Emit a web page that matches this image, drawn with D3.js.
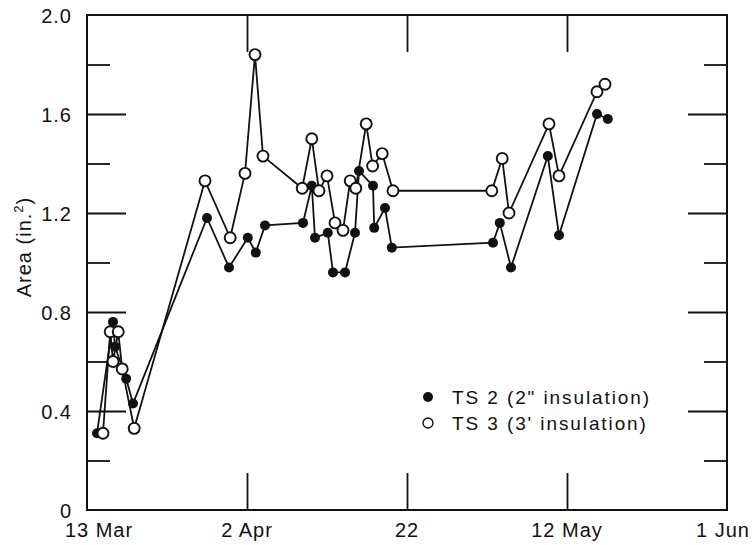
<!DOCTYPE html>
<html>
<head>
<meta charset="utf-8">
<script src="https://cdn.jsdelivr.net/npm/d3@7"></script>
<style>
  body { margin: 0; background: #fff; }
  text { font-family: "Liberation Sans", Arial, sans-serif; fill: #111; }
</style>
</head>
<body>
<div id="chart-area"></div>
<script>
// Days after 13 Mar and area (in.^2)
var ts2Days = [1.25, 3.25, 3.5, 4.9, 5.75, 15, 17.75, 20.1, 21.1, 22.25,
               27, 28.1, 28.5, 30.1, 30.75, 32.25, 33.5, 34, 35.75, 35.9,
               37.25, 38.1, 50.75, 51.6, 53, 57.6, 59, 63.75, 65.1];
var ts2Area = [0.31, 0.76, 0.66, 0.53, 0.43, 1.18, 0.98, 1.10, 1.04, 1.15,
               1.16, 1.31, 1.10, 1.12, 0.96, 0.96, 1.12, 1.37, 1.31, 1.14,
               1.22, 1.06, 1.08, 1.16, 0.98, 1.43, 1.11, 1.60, 1.58];

var ts3Days = [2, 2.9, 3.25, 3.9, 4.4, 5.9, 14.75, 17.9, 19.75, 21,
               22, 26.9, 28.1, 29, 30, 31, 32, 32.9, 33.6, 34.9,
               35.7, 36.9, 38.25, 50.6, 51.9, 52.75, 57.75, 59, 63.75, 64.75];
var ts3Area = [0.31, 0.72, 0.60, 0.72, 0.57, 0.33, 1.33, 1.10, 1.36, 1.84,
               1.43, 1.30, 1.50, 1.29, 1.35, 1.16, 1.13, 1.33, 1.30, 1.56,
               1.39, 1.44, 1.29, 1.29, 1.42, 1.20, 1.56, 1.35, 1.69, 1.72];

var xTickDays = [0, 20, 40, 60, 80];
var xTickLabels = ["13 Mar", "2 Apr", "22", "12 May", "1 Jun"];
var yMajorTicks = [0, 0.4, 0.8, 1.2, 1.6, 2.0];
var yMinorTicks = [0.2, 0.6, 1.0, 1.4, 1.8];
var yTickLabels = ["0", "0.4", "0.8", "1.2", "1.6", "2.0"];

var legendLabels = ["TS 2 (2\" insulation)", "TS 3 (3' insulation)"];

var margin = { left: 87, right: 28, top: 15, bottom: 35 };
var width = 755 - margin.left - margin.right,
    height = 545 - margin.top - margin.bottom;

var svg = d3.select("#chart-area")
    .append("svg")
    .attr("width", 755)
    .attr("height", 545);

var g = svg.append("g")
    .attr("transform", "translate(" + margin.left + "," + margin.top + ")");

// Scales
var x = d3.scaleLinear().domain([0, 80]).range([0, width]);
var y = d3.scaleLinear().domain([0, 2.0]).range([height, 0]);

// Inward ticks on all four sides
function drawTicks(axis, values, size) {
    return axis.tickValues(values).tickSize(-size).tickFormat("");
}

g.append("g")
    .attr("transform", "translate(0," + height + ")")
    .call(drawTicks(d3.axisBottom(x), [20, 40, 60], 37));
g.append("g")
    .call(drawTicks(d3.axisTop(x), [20, 40, 60], 37));
g.append("g")
    .call(drawTicks(d3.axisLeft(y), yMajorTicks.slice(1, 5), 39));
g.append("g")
    .call(drawTicks(d3.axisLeft(y), yMinorTicks, 23));
g.append("g")
    .attr("transform", "translate(" + width + ",0)")
    .call(drawTicks(d3.axisRight(y), yMajorTicks.slice(1, 5), 39));
g.append("g")
    .attr("transform", "translate(" + width + ",0)")
    .call(drawTicks(d3.axisRight(y), yMinorTicks, 23));

g.selectAll(".domain").remove();
g.selectAll(".tick line").attr("stroke", "#111").attr("stroke-width", 1.8);

// Frame
g.append("rect")
    .attr("width", width)
    .attr("height", height)
    .attr("fill", "none")
    .attr("stroke", "#111")
    .attr("stroke-width", 2);

// Tick labels
g.selectAll(".xlabel").data(xTickDays)
    .enter().append("text")
    .attr("class", "xlabel")
    .attr("x", function(d, i) { return x(d) + (i === 0 ? 12 : (i === 4 ? -4 : 0)); })
    .attr("y", height + 27)
    .attr("font-size", "20px")
    .attr("letter-spacing", "1px")
    .attr("text-anchor", "middle")
    .text(function(d, i) { return xTickLabels[i]; });

g.selectAll(".ylabel").data(yMajorTicks)
    .enter().append("text")
    .attr("class", "ylabel")
    .attr("x", -15)
    .attr("y", function(d) { return y(d) + 8; })
    .attr("font-size", "20px")
    .attr("letter-spacing", "1px")
    .attr("text-anchor", "end")
    .text(function(d, i) { return yTickLabels[i]; });

// Y axis title
var yTitle = svg.append("text")
    .attr("transform", "translate(31,247) rotate(-90)")
    .attr("font-size", "20px")
    .attr("letter-spacing", "1px")
    .attr("text-anchor", "middle");
yTitle.append("tspan").text("Area (in.");
yTitle.append("tspan").attr("font-size", "13px").attr("dy", "-8").text("2");
yTitle.append("tspan").attr("dy", "8").text(")");

// Series
var ts2 = ts2Days.map(function(d, i) { return { day: d, area: ts2Area[i] }; });
var ts3 = ts3Days.map(function(d, i) { return { day: d, area: ts3Area[i] }; });

var line = d3.line()
    .x(function(d) { return x(d.day); })
    .y(function(d) { return y(d.area); });

g.append("path")
    .datum(ts2)
    .attr("fill", "none")
    .attr("stroke", "#111")
    .attr("stroke-width", 1.8)
    .attr("d", line);

g.append("path")
    .datum(ts3)
    .attr("fill", "none")
    .attr("stroke", "#111")
    .attr("stroke-width", 1.8)
    .attr("d", line);

g.selectAll(".ts2").data(ts2)
    .enter().append("circle")
    .attr("class", "ts2")
    .attr("cx", function(d) { return x(d.day); })
    .attr("cy", function(d) { return y(d.area); })
    .attr("r", 5)
    .attr("fill", "#111");

g.selectAll(".ts3").data(ts3)
    .enter().append("circle")
    .attr("class", "ts3")
    .attr("cx", function(d) { return x(d.day); })
    .attr("cy", function(d) { return y(d.area); })
    .attr("r", 5.5)
    .attr("fill", "#fff")
    .attr("stroke", "#111")
    .attr("stroke-width", 1.9);

// Legend
var legend = svg.append("g")
    .attr("transform", "translate(428,397)");

legend.append("circle")
    .attr("r", 5)
    .attr("fill", "#111");
legend.append("circle")
    .attr("cy", 26)
    .attr("r", 5)
    .attr("fill", "#fff")
    .attr("stroke", "#111")
    .attr("stroke-width", 1.4);

legend.selectAll("text").data(legendLabels)
    .enter().append("text")
    .attr("x", 24)
    .attr("y", function(d, i) { return 7 + i * 26; })
    .attr("font-size", "19px")
    .attr("letter-spacing", "1.9px")
    .text(function(d) { return d; });
</script>
</body>
</html>
